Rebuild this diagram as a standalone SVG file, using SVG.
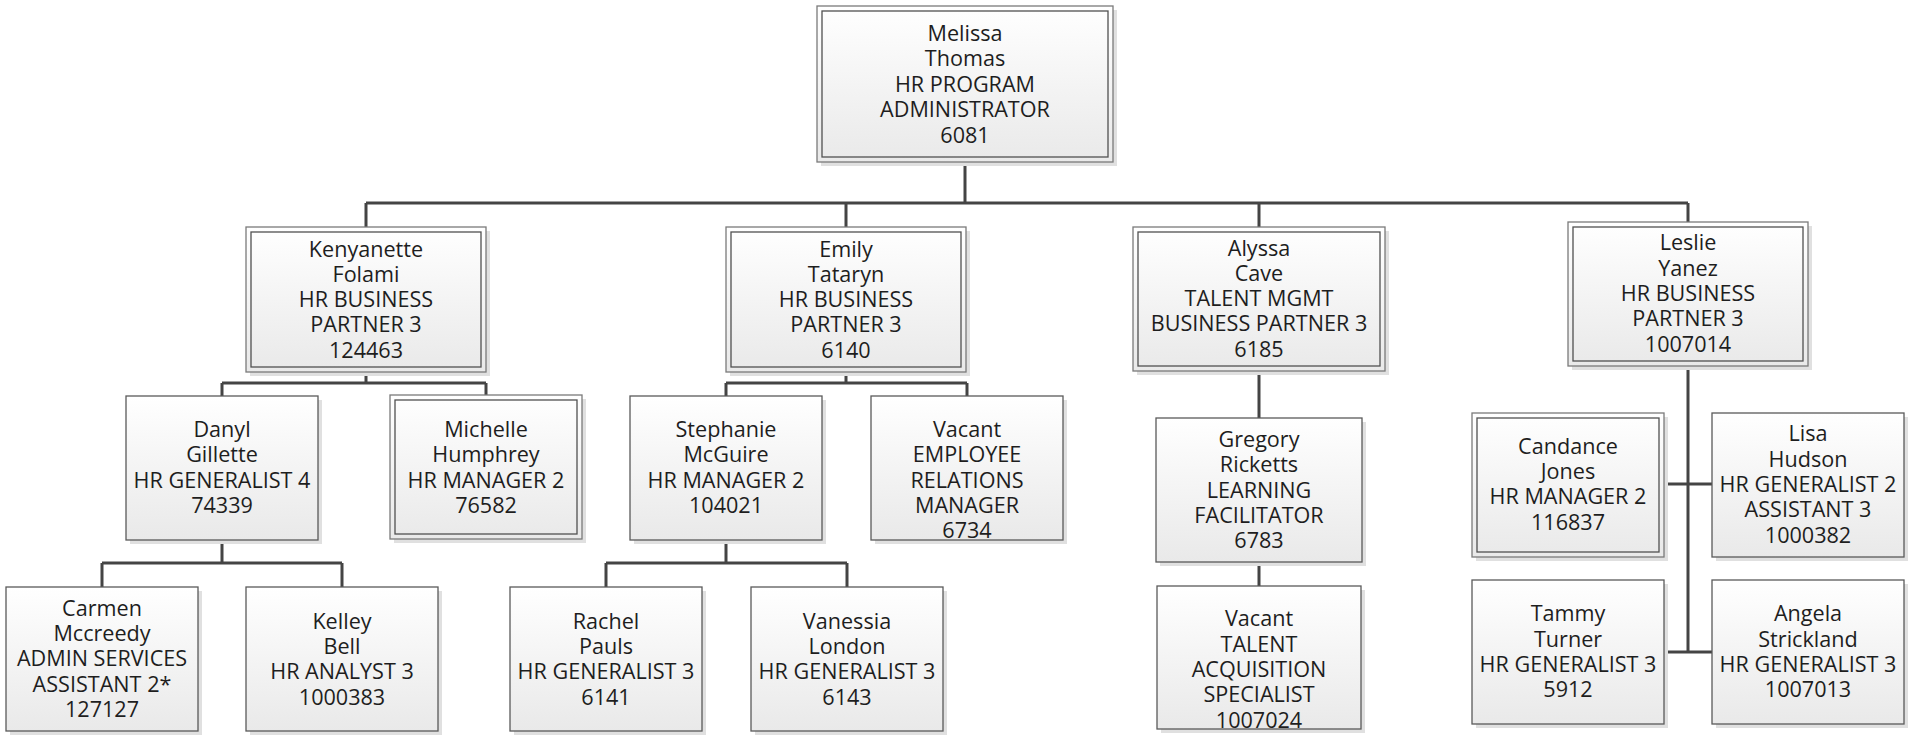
<svg xmlns="http://www.w3.org/2000/svg" width="1912" height="735" viewBox="0 0 1912 735">
<defs>
<linearGradient id="g" x1="0" y1="0" x2="0" y2="1">
<stop offset="0" stop-color="#ffffff"/>
<stop offset="1" stop-color="#e9e9e9"/>
</linearGradient>
</defs>
<style>
.sh{fill:#e0e0e0;stroke:none}
.bx{fill:url(#g);stroke:#5a5a5a;stroke-width:1.3}
.ob{fill:url(#g);stroke:#7a7a7a;stroke-width:1.3}
.ib{fill:none;stroke:#505050;stroke-width:1.3}
.t{font-family:"Open Sans","DejaVu Sans",sans-serif;font-size:21.6px;fill:#1e1e1e;text-anchor:middle}
.c{fill:none;stroke:#444;stroke-width:3}
</style>
<rect width="1912" height="735" fill="#ffffff"/>
<g id="connectors">
<path class="c" d="M965,162V203M366,203H1688M366,203V227M846,203V227M1259,203V227M1688,203V222"/>
<path class="c" d="M366,372V383M222,383H486M222,383V396M486,383V395"/>
<path class="c" d="M222,540V563M102,563H342M102,563V587M342,563V587"/>
<path class="c" d="M846,372V383M726,383H967M726,383V396M967,383V396"/>
<path class="c" d="M726,540V563M606,563H847M606,563V587M847,563V587"/>
<path class="c" d="M1259,371V418M1259,562V586"/>
<path class="c" d="M1688,366V652M1664,484H1712M1664,652H1712"/>
</g>
<g id="n-melissa">
<rect class="sh" x="821" y="10" width="296" height="156"/>
<rect class="ob" x="817" y="6" width="296" height="156"/>
<rect class="ib" x="822" y="11" width="286" height="146"/>
<text class="t" x="965" y="40.5">Melissa</text>
<text class="t" x="965" y="66.1">Thomas</text>
<text class="t" x="965" y="91.7">HR PROGRAM</text>
<text class="t" x="965" y="117.3">ADMINISTRATOR</text>
<text class="t" x="965" y="142.9">6081</text>
</g>
<g id="n-kenyanette">
<rect class="sh" x="250" y="231" width="240" height="145"/>
<rect class="ob" x="246" y="227" width="240" height="145"/>
<rect class="ib" x="251" y="232" width="230" height="135"/>
<text class="t" x="366" y="256.5">Kenyanette</text>
<text class="t" x="366" y="281.8">Folami</text>
<text class="t" x="366" y="307.1">HR BUSINESS</text>
<text class="t" x="366" y="332.4">PARTNER 3</text>
<text class="t" x="366" y="357.7">124463</text>
</g>
<g id="n-emily">
<rect class="sh" x="730" y="231" width="240" height="145"/>
<rect class="ob" x="726" y="227" width="240" height="145"/>
<rect class="ib" x="731" y="232" width="230" height="135"/>
<text class="t" x="846" y="256.5">Emily</text>
<text class="t" x="846" y="281.8">Tataryn</text>
<text class="t" x="846" y="307.1">HR BUSINESS</text>
<text class="t" x="846" y="332.4">PARTNER 3</text>
<text class="t" x="846" y="357.7">6140</text>
</g>
<g id="n-alyssa">
<rect class="sh" x="1137" y="231" width="252" height="144"/>
<rect class="ob" x="1133" y="227" width="252" height="144"/>
<rect class="ib" x="1138" y="232" width="242" height="134"/>
<text class="t" x="1259" y="255.5">Alyssa</text>
<text class="t" x="1259" y="280.8">Cave</text>
<text class="t" x="1259" y="306.1">TALENT MGMT</text>
<text class="t" x="1259" y="331.4">BUSINESS PARTNER 3</text>
<text class="t" x="1259" y="356.7">6185</text>
</g>
<g id="n-leslie">
<rect class="sh" x="1572" y="226" width="240" height="144"/>
<rect class="ob" x="1568" y="222" width="240" height="144"/>
<rect class="ib" x="1573" y="227" width="230" height="134"/>
<text class="t" x="1688" y="250.3">Leslie</text>
<text class="t" x="1688" y="275.6">Yanez</text>
<text class="t" x="1688" y="300.9">HR BUSINESS</text>
<text class="t" x="1688" y="326.2">PARTNER 3</text>
<text class="t" x="1688" y="351.5">1007014</text>
</g>
<g id="n-danyl">
<rect class="sh" x="130" y="400" width="192" height="144"/>
<rect class="bx" x="126" y="396" width="192" height="144"/>
<text class="t" x="222" y="437">Danyl</text>
<text class="t" x="222" y="462.3">Gillette</text>
<text class="t" x="222" y="487.6">HR GENERALIST 4</text>
<text class="t" x="222" y="512.9">74339</text>
</g>
<g id="n-michelle">
<rect class="sh" x="394" y="399" width="192" height="144"/>
<rect class="ob" x="390" y="395" width="192" height="144"/>
<rect class="ib" x="395" y="400" width="182" height="134"/>
<text class="t" x="486" y="437">Michelle</text>
<text class="t" x="486" y="462.3">Humphrey</text>
<text class="t" x="486" y="487.6">HR MANAGER 2</text>
<text class="t" x="486" y="512.9">76582</text>
</g>
<g id="n-stephanie">
<rect class="sh" x="634" y="400" width="192" height="144"/>
<rect class="bx" x="630" y="396" width="192" height="144"/>
<text class="t" x="726" y="437">Stephanie</text>
<text class="t" x="726" y="462.3">McGuire</text>
<text class="t" x="726" y="487.6">HR MANAGER 2</text>
<text class="t" x="726" y="512.9">104021</text>
</g>
<g id="n-vacant-erm">
<rect class="sh" x="875" y="400" width="192" height="144"/>
<rect class="bx" x="871" y="396" width="192" height="144"/>
<text class="t" x="967" y="437">Vacant</text>
<text class="t" x="967" y="462.3">EMPLOYEE</text>
<text class="t" x="967" y="487.6">RELATIONS</text>
<text class="t" x="967" y="512.9">MANAGER</text>
<text class="t" x="967" y="538.2">6734</text>
</g>
<g id="n-carmen">
<rect class="sh" x="10" y="591" width="192" height="144"/>
<rect class="bx" x="6" y="587" width="192" height="144"/>
<text class="t" x="102" y="615.7">Carmen</text>
<text class="t" x="102" y="641">Mccreedy</text>
<text class="t" x="102" y="666.3">ADMIN SERVICES</text>
<text class="t" x="102" y="691.6">ASSISTANT 2*</text>
<text class="t" x="102" y="716.9">127127</text>
</g>
<g id="n-kelley">
<rect class="sh" x="250" y="591" width="192" height="144"/>
<rect class="bx" x="246" y="587" width="192" height="144"/>
<text class="t" x="342" y="628.7">Kelley</text>
<text class="t" x="342" y="654">Bell</text>
<text class="t" x="342" y="679.3">HR ANALYST 3</text>
<text class="t" x="342" y="704.6">1000383</text>
</g>
<g id="n-rachel">
<rect class="sh" x="514" y="591" width="192" height="144"/>
<rect class="bx" x="510" y="587" width="192" height="144"/>
<text class="t" x="606" y="628.7">Rachel</text>
<text class="t" x="606" y="654">Pauls</text>
<text class="t" x="606" y="679.3">HR GENERALIST 3</text>
<text class="t" x="606" y="704.6">6141</text>
</g>
<g id="n-vanessia">
<rect class="sh" x="755" y="591" width="192" height="144"/>
<rect class="bx" x="751" y="587" width="192" height="144"/>
<text class="t" x="847" y="628.7">Vanessia</text>
<text class="t" x="847" y="654">London</text>
<text class="t" x="847" y="679.3">HR GENERALIST 3</text>
<text class="t" x="847" y="704.6">6143</text>
</g>
<g id="n-gregory">
<rect class="sh" x="1160" y="422" width="206" height="144"/>
<rect class="bx" x="1156" y="418" width="206" height="144"/>
<text class="t" x="1259" y="447">Gregory</text>
<text class="t" x="1259" y="472.3">Ricketts</text>
<text class="t" x="1259" y="497.6">LEARNING</text>
<text class="t" x="1259" y="522.9">FACILITATOR</text>
<text class="t" x="1259" y="548.2">6783</text>
</g>
<g id="n-vacant-tas">
<rect class="sh" x="1161" y="590" width="204" height="143"/>
<rect class="bx" x="1157" y="586" width="204" height="143"/>
<text class="t" x="1259" y="626.3">Vacant</text>
<text class="t" x="1259" y="651.6">TALENT</text>
<text class="t" x="1259" y="676.9">ACQUISITION</text>
<text class="t" x="1259" y="702.2">SPECIALIST</text>
<text class="t" x="1259" y="727.5">1007024</text>
</g>
<g id="n-candance">
<rect class="sh" x="1476" y="417" width="192" height="144"/>
<rect class="ob" x="1472" y="413" width="192" height="144"/>
<rect class="ib" x="1477" y="418" width="182" height="134"/>
<text class="t" x="1568" y="453.7">Candance</text>
<text class="t" x="1568" y="479">Jones</text>
<text class="t" x="1568" y="504.3">HR MANAGER 2</text>
<text class="t" x="1568" y="529.6">116837</text>
</g>
<g id="n-lisa">
<rect class="sh" x="1716" y="417" width="192" height="144"/>
<rect class="bx" x="1712" y="413" width="192" height="144"/>
<text class="t" x="1808" y="441.3">Lisa</text>
<text class="t" x="1808" y="466.6">Hudson</text>
<text class="t" x="1808" y="491.9">HR GENERALIST 2</text>
<text class="t" x="1808" y="517.2">ASSISTANT 3</text>
<text class="t" x="1808" y="542.5">1000382</text>
</g>
<g id="n-tammy">
<rect class="sh" x="1476" y="584" width="192" height="144"/>
<rect class="bx" x="1472" y="580" width="192" height="144"/>
<text class="t" x="1568" y="621.3">Tammy</text>
<text class="t" x="1568" y="646.6">Turner</text>
<text class="t" x="1568" y="671.9">HR GENERALIST 3</text>
<text class="t" x="1568" y="697.2">5912</text>
</g>
<g id="n-angela">
<rect class="sh" x="1716" y="584" width="192" height="144"/>
<rect class="bx" x="1712" y="580" width="192" height="144"/>
<text class="t" x="1808" y="621.3">Angela</text>
<text class="t" x="1808" y="646.6">Strickland</text>
<text class="t" x="1808" y="671.9">HR GENERALIST 3</text>
<text class="t" x="1808" y="697.2">1007013</text>
</g>
</svg>
